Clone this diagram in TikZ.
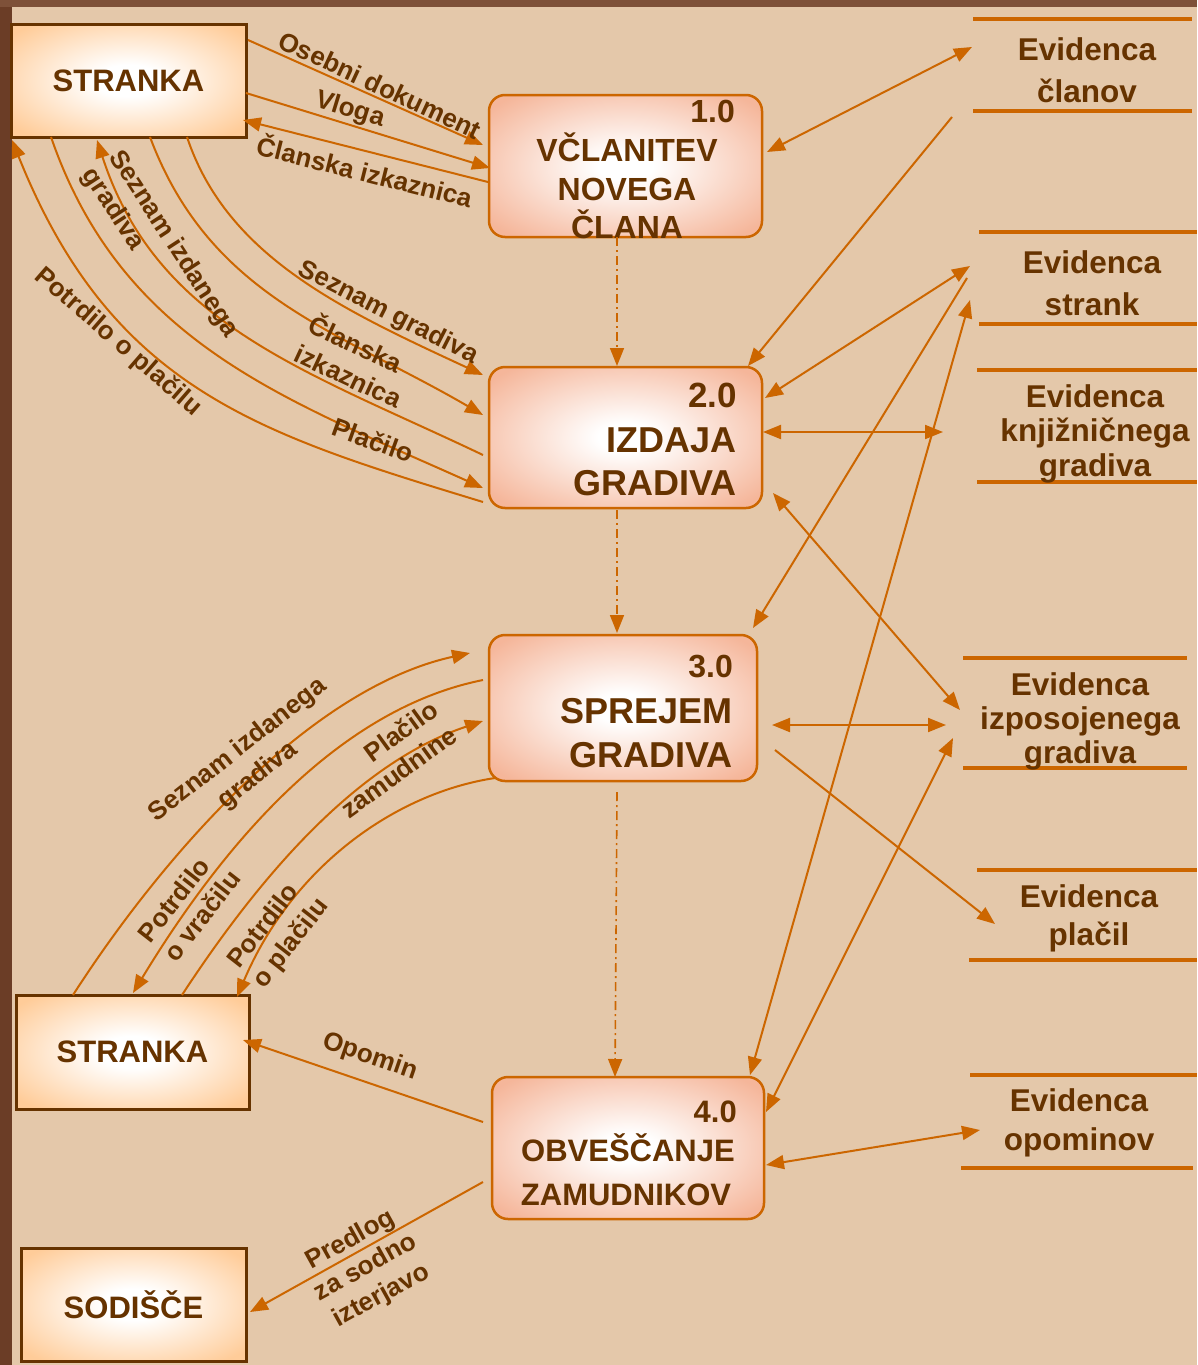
\documentclass[tikz,border=0pt]{standalone}
\usepackage{fontspec}
\setmainfont{Liberation Sans}
\usetikzlibrary{arrows.meta,calc}

\definecolor{paper}{HTML}{E4C8AA}
\definecolor{frameL}{HTML}{6B3D26}
\definecolor{frameT}{HTML}{7E5139}
\definecolor{ink}{HTML}{663300}
\definecolor{flow}{HTML}{CC6600}
\definecolor{entout}{HTML}{FFCC99}
\definecolor{procout}{HTML}{F5B69A}

\pgfdeclareradialshading{entglow}{\pgfpoint{0bp}{0bp}}{color(0bp)=(white); color(7bp)=(white); color(32bp)=(entout); color(50bp)=(entout)}
\pgfdeclareradialshading{procglow}{\pgfpoint{0bp}{0bp}}{color(0bp)=(white); color(5bp)=(white); color(32bp)=(procout); color(50bp)=(procout)}

\tikzset{
  entity/.style={draw=ink, line width=3pt, shade, shading=entglow, text=ink,
    font=\bfseries\fontsize{31}{37}\selectfont, inner sep=0pt, outer sep=0pt},
  proc/.style={draw=flow, line width=2.5pt, rounded corners=16pt, shade,
    shading=procglow, inner sep=0pt, outer sep=0pt},
  store/.style={draw=none, inner sep=0pt, outer sep=0pt},
  sline/.style={draw=flow, line width=3.5pt},
  fl/.style={draw=flow, line width=2pt},
  ctl/.style={draw=flow, line width=1.6pt, dash pattern=on 9pt off 4pt on 2pt off 4pt, ->},
  ptxt/.style={text=ink, inner sep=0pt, font=\bfseries\fontsize{#1}{#1}\selectfont},
  stxt/.style={text=ink, inner sep=0pt, anchor=base, font=\bfseries\fontsize{31.5}{36}\selectfont},
  lab/.style={text=ink, inner sep=0pt, align=center, font=\bfseries\fontsize{26}{32}\selectfont},
}

\begin{document}
\begin{tikzpicture}[x=1pt,y=-1pt,>={Triangle[length=18pt,width=14pt]}]
\useasboundingbox (0,0) rectangle (1197,1365);
% frame and paper
\fill[frameL] (0,0) rectangle (1197,1365);
\fill[frameT] (0,0) rectangle (1197,7);
\fill[paper] (12,7) rectangle (1197,1365);

% external entities
\node[entity, minimum width=235pt, minimum height=113pt] (s1) at (128.5,80.5) {STRANKA};
\node[entity, minimum width=233pt, minimum height=114pt] (s2) at (132.5,1052) {STRANKA};
\node[entity, minimum width=225pt, minimum height=113pt] (sod) at (133.5,1304.5) {SODIŠČE};

% processes
\node[proc, minimum width=273pt, minimum height=142pt] (p1) at (625.5,166) {};
\node[proc, minimum width=273pt, minimum height=141pt] (p2) at (625.5,437.5) {};
\node[proc, minimum width=268pt, minimum height=146pt] (p3) at (623,708) {};
\node[proc, minimum width=272pt, minimum height=142pt] (p4) at (628,1148) {};

\node[ptxt=32, anchor=base east] (p1n) at (735,122) {1.0};
\node[ptxt=32, anchor=base] (p1a) at (627,161.5) {VČLANITEV};
\node[ptxt=32, anchor=base] (p1b) at (627,200) {NOVEGA};
\node[ptxt=32, anchor=base] (p1c) at (627,238) {ČLANA};

\node[ptxt=35, anchor=base east] (p2n) at (737,407) {2.0};
\node[ptxt=36, anchor=base east] (p2a) at (737,452) {IZDAJA};
\node[ptxt=36, anchor=base east] (p2b) at (737,495) {GRADIVA};

\node[ptxt=32, anchor=base east] (p3n) at (733,677) {3.0};
\node[ptxt=36, anchor=base east] (p3a) at (733,723) {SPREJEM};
\node[ptxt=36, anchor=base east] (p3b) at (733,767) {GRADIVA};

\node[ptxt=31, anchor=base east] (p4n) at (737,1122) {4.0};
\node[ptxt=31, anchor=base] (p4a) at (628,1161.5) {OBVEŠČANJE};
\node[ptxt=31, anchor=base] (p4b) at (626,1205) {ZAMUDNIKOV};

% data stores
\node[store, minimum width=219pt, minimum height=92pt] (d1) at (1082.5,65) {};
\node[store, minimum width=218pt, minimum height=92pt] (d2) at (1088,278) {};
\node[store, minimum width=220pt, minimum height=112pt] (d3) at (1087,426) {};
\node[store, minimum width=224pt, minimum height=110pt] (d4) at (1075,713) {};
\node[store, minimum width=220pt, minimum height=90pt] (d5) at (1087,915) {};
\node[store, minimum width=227pt, minimum height=93pt] (d6) at (1083.5,1121.5) {};

\foreach \d in {d1,d2,d3,d4}{
  \draw[sline] (\d.north west) -- (\d.north east);
  \draw[sline] (\d.south west) -- (\d.south east);
}
\draw[sline] (d5.north west) -- (d5.north east);
\draw[sline] ($(d5.south west)+(-8,0)$) -- (d5.south east);
\draw[sline] (d6.north west) -- (d6.north east);
\draw[sline] ($(d6.south west)+(-9,0)$) -- ($(d6.south east)+(-4,0)$);

\node[stxt] (d1a) at (1087,60) {Evidenca};
\node[stxt] (d1b) at (1087,102) {članov};
\node[stxt] (d2a) at (1092,273.3) {Evidenca};
\node[stxt] (d2b) at (1092,315) {strank};
\node[stxt] (d3a) at (1095,407.3) {Evidenca};
\node[stxt] (d3b) at (1095,441.7) {knjižničnega};
\node[stxt] (d3c) at (1095,476) {gradiva};
\node[stxt] (d4a) at (1080,695.4) {Evidenca};
\node[stxt] (d4b) at (1080,729) {izposojenega};
\node[stxt] (d4c) at (1080,763.5) {gradiva};
\node[stxt] (d5a) at (1089,907.8) {Evidenca};
\node[stxt] (d5b) at (1089,945.3) {plačil};
\node[stxt] (d6a) at (1079,1111.8) {Evidenca};
\node[stxt] (d6b) at (1079,1150) {opominov};

% control flow between processes
\draw[ctl] ($(p1.south)+(-8.5,0)$) -- ($(p2.north)+(-8.5,-1)$);
\draw[ctl] ($(p2.south)+(-8.5,2)$) -- ($(p3.north)+(-6,-2)$);
\draw[ctl] ($(p3.south)+(-6,11)$) -- ($(p4.north)+(-13,0)$);

% upper client <-> 1.0
\draw[fl,->] ($(s1.north east)+(2,16)$) -- ($(p1.north west)+(-6,50)$);
\draw[fl,->] ($(s1.east)+(0,12.5)$) -- ($(p1.west)+(1,2)$);
\draw[fl,->] ($(p1.west)+(-1,16)$) -- ($(s1.east)+(-3,39.5)$);

% upper client <-> 2.0
\draw[fl,->] ($(s1.south west)+(176,0)$) .. controls +(40,120) and +(-140,-65) .. ($(p2.north west)+(-6,8)$);
\draw[fl,->] ($(s1.south west)+(139,0)$) .. controls +(60,160) and +(-146,-85) .. ($(p2.west)+(-6,-22.5)$);
\draw[fl,<-] ($(s1.south west)+(86,3)$) .. controls +(60,185) and +(-176,-84) .. ($(p2.west)+(-6,17.5)$);
\draw[fl,->] ($(s1.south west)+(40,0)$) .. controls +(71,206) and +(-198,-89) .. ($(p2.south west)+(-6,-20)$);
\draw[fl,<-] ($(s1.south west)+(1,3)$) .. controls +(100,250) and +(-223,-68) .. ($(p2.south west)+(-6,-6)$);

% lower client <-> 3.0
\draw[fl,->] ($(s2.north west)+(57,0)$) .. controls +(90,-140) and +(-160,35) .. ($(p3.north west)+(-19,18)$);
\draw[fl,<-] ($(s2.north west)+(117,-2)$) .. controls +(85,-140) and +(-150,30) .. ($(p3.west)+(-6,-28)$);
\draw[fl,->] ($(s2.north west)+(166,0)$) .. controls +(85,-130) and +(-120,40) .. ($(p3.west)+(-6,13)$);
\draw[fl,<-] ($(s2.north west)+(221,2)$) .. controls +(55,-130) and +(-100,15) .. ($(p3.south west)+(6,-3)$);

% 4.0 -> client, court
\draw[fl,->] ($(p4.west)+(-9,-26)$) -- ($(s2.east)+(-6,-12)$);
\draw[fl,->] ($(p4.west)+(-9,34)$) -- ($(sod.east)+(4,7.5)$);

% processes <-> data stores
\draw[fl,<->] ($(p1.east)+(5,-14)$) -- ($(d1.west)+(-1,-18)$);
\draw[fl,->] ($(d1.south west)+(-21,6)$) -- ($(p2.north east)+(-14,-1)$);
\draw[fl,<->] ($(p2.east)+(3,-39.5)$) -- ($(d2.west)+(-9,-12)$);
\draw[fl,->] ($(d2.west)+(-12,0)$) -- ($(p3.north east)+(-4,-7)$);
\draw[fl,<->] ($(p4.north east)+(-14,-2)$) -- ($(d2.west)+(-9,22)$);
\draw[fl,<->] ($(p2.east)+(1,-5.5)$) -- ($(d3.west)+(-34,6)$);
\draw[fl,<->] ($(p2.south east)+(11,-15)$) -- ($(d4.west)+(-3,-3)$);
\draw[fl,<->] ($(p3.east)+(15,17)$) -- ($(d4.west)+(-17,12)$);
\draw[fl,<->] ($(p4.east)+(2,-36)$) -- ($(d4.west)+(-10,25)$);
\draw[fl,->] ($(p3.east)+(18,42)$) -- ($(d5.west)+(18,9)$);
\draw[fl,<->] ($(p4.east)+(2,17)$) -- ($(d6.west)+(10,8.5)$);

% flow labels
\node[lab, rotate=-25] (l1) at (380,85) {Osebni dokument};
\node[lab, rotate=-17] (l2) at (350,110) {Vloga};
\node[lab, rotate=-14] (l3) at (365,170) {Članska izkaznica};
\node[lab, rotate=-27] (l4) at (388,313) {Seznam gradiva};
\node[lab, rotate=-25, align=left] (l5) at (356,360) {Članska\\izkaznica};
\node[lab, rotate=-57, align=left] (l6) at (160,253) {Seznam izdanega\\gradiva};
\node[lab, rotate=-41] (l7) at (118,342) {Potrdilo o plačilu};
\node[lab, rotate=-20] (l8) at (373,440) {Plačilo};
\node[lab, rotate=38] (l9) at (248,763) {Seznam izdanega\\gradiva};
\node[lab, rotate=52, align=left] (l10) at (189,906) {Potrdilo\\o vračilu};
\node[lab, rotate=36, align=right] (l11) at (389,759) {Plačilo\\zamudnine};
\node[lab, rotate=52, align=left] (l12) at (279,934) {Potrdilo\\o plačilu};
\node[lab, rotate=-19] (l13) at (370,1057) {Opomin};
\node[lab, rotate=29] (l14) at (366,1268) {Predlog\\za sodno\\izterjavo};
\end{tikzpicture}
\end{document}
